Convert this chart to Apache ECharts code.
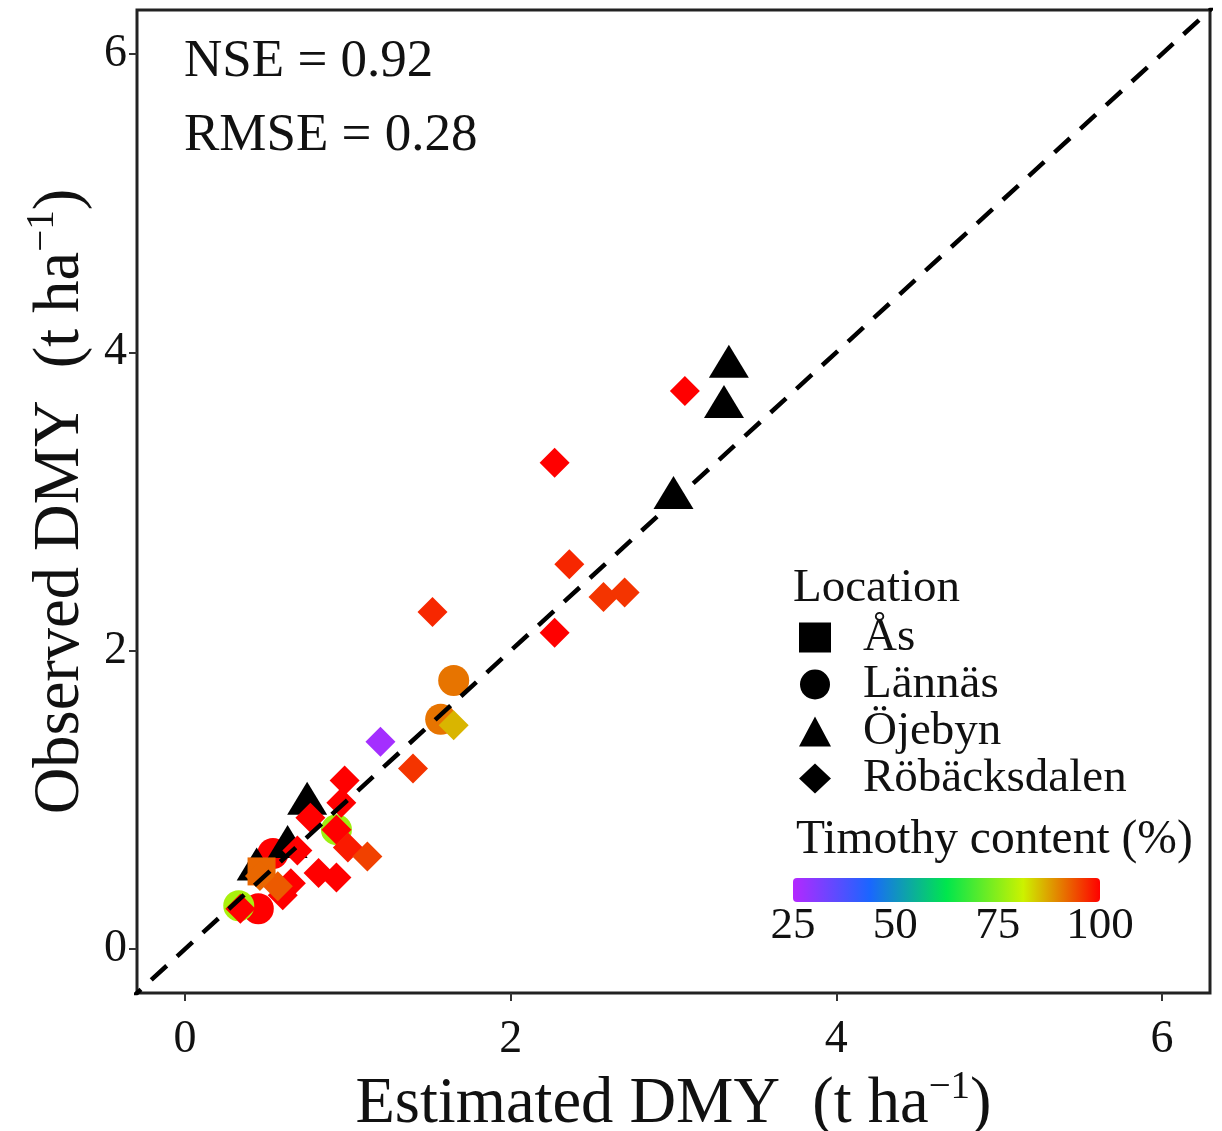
<!DOCTYPE html>
<html><head><meta charset="utf-8">
<script src="https://cdn.jsdelivr.net/npm/echarts@6/dist/echarts.min.js"></script>
<style>html,body{margin:0;padding:0;background:#fff}#c{width:1222px;height:1131px}</style>
</head><body><div id="c"></div>
<script>
const FONT = 'Liberation Serif';
const tickValues = [0, 2, 4, 6];
const timothyTicks = [25, 50, 75, 100];
const locations = ['Ås', 'Lännäs', 'Öjebyn', 'Röbäcksdalen'];
const timothyColors = ['#b428ff', '#1a66ff', '#00e64d', '#ccf200', '#ff0000'];

// Röbäcksdalen (diamonds): estimated, observed, timothy %
const robEst = [3.07, 2.27, 2.36, 2.57, 2.70, 2.27, 1.52, 1.20, 1.40, 1.65, 0.98, 0.96, 0.77, 0.93, 1.00, 1.12, 0.82, 0.93, 0.69, 0.65, 0.60, 0.34, 0.57, 0.46];
const robObs = [3.74, 3.26, 2.58, 2.36, 2.39, 2.12, 2.26, 1.39, 1.21, 1.50, 1.13, 0.98, 0.88, 0.80, 0.68, 0.62, 0.51, 0.48, 0.66, 0.44, 0.36, 0.27, 0.42, 0.49];
const robTim = [100, 100, 97, 96, 96, 100, 97, 27, 96, 86, 100, 100, 100, 100, 98, 95, 100, 100, 100, 100, 100, 100, 93, 92];
// Lännäs (circles)
const lanEst = [1.65, 1.57, 0.93, 0.54, 0.45, 0.33];
const lanObs = [1.80, 1.54, 0.80, 0.64, 0.27, 0.29];
const lanTim = [91, 91, 77, 100, 100, 78];
// Öjebyn (triangles, no timothy colour)
const ojeEst = [3.34, 3.31, 3.00, 0.75, 0.63, 0.44];
const ojeObs = [3.94, 3.67, 3.06, 1.01, 0.72, 0.57];
// Ås (squares)
const asEst = [0.47];
const asObs = [0.52];
const asTim = [92];
// 1:1 line
const lineXY = [-1, 7];

function pts(xs, ys, ts) { return xs.map((x, i) => ts ? [x, ys[i], ts[i]] : [x, ys[i]]); }

const chart = echarts.init(document.getElementById('c'));

const nameRich = {
  a: { fontSize: 64.5, fontFamily: FONT, color: '#111', lineHeight: 74 },
  s: { fontSize: 39, fontFamily: FONT, color: '#111', verticalAlign: 'top', lineHeight: 39 }
};

function axisCommon() {
  return {
    type: 'value', min: -0.295, max: 6.295,
    splitLine: { show: false },
    axisLine: { show: false, onZero: false },
    axisTick: { show: true, customValues: tickValues, length: 8, lineStyle: { color: '#333', width: 2 } },
    nameLocation: 'middle',
    nameTextStyle: { rich: nameRich }
  };
}

const xAxis = Object.assign(axisCommon(), {
  axisLabel: { customValues: tickValues, fontSize: 46, fontFamily: FONT, color: '#111', margin: 24 },
  name: '{a|Estimated DMY  (t ha}{s|−1}{a|)}',
  nameGap: 62
});
const yAxis = Object.assign(axisCommon(), {
  axisLabel: { customValues: tickValues, fontSize: 46, fontFamily: FONT, color: '#111', margin: 10 },
  name: '{a|Observed DMY  (t ha}{s|−1}{a|)}',
  nameGap: 33
});

const cbX = 793, cbY = 878, cbW = 307, cbH = 24;
const graphics = [
  { type: 'text', x: 184, y: 62, style: { text: 'NSE = 0.92', fontSize: 53, fontFamily: FONT, fill: '#111', align: 'left', verticalAlign: 'middle' } },
  { type: 'text', x: 184, y: 136, style: { text: 'RMSE = 0.28', fontSize: 53, fontFamily: FONT, fill: '#111', align: 'left', verticalAlign: 'middle' } },
  { type: 'text', x: 793, y: 589, style: { text: 'Location', fontSize: 47, fontFamily: FONT, fill: '#111', align: 'left', verticalAlign: 'middle' } },
  { type: 'text', x: 796, y: 841, style: { text: 'Timothy content (%)', fontSize: 47.5, fontFamily: FONT, fill: '#111', align: 'left', verticalAlign: 'middle' } },
  { type: 'rect', shape: { x: cbX, y: cbY, width: cbW, height: cbH, r: 4 },
    style: { fill: new echarts.graphic.LinearGradient(0, 0, 1, 0, timothyColors.map((c, i) => ({ offset: i / (timothyColors.length - 1), color: c }))) } }
];
timothyTicks.forEach(v => {
  graphics.push({ type: 'text', x: cbX + (v - 25) / 75 * cbW, y: 926,
    style: { text: String(v), fontSize: 45, fontFamily: FONT, fill: '#111', align: 'center', verticalAlign: 'middle' } });
});

const option = {
  animation: false,
  backgroundColor: '#fff',
  grid: { left: 137, right: 12, top: 10, bottom: 138, outerBoundsMode: 'none', containLabel: false,
    show: true, borderColor: '#222', borderWidth: 3, backgroundColor: 'transparent' },
  xAxis: xAxis,
  yAxis: yAxis,
  visualMap: { type: 'continuous', show: false, min: 25, max: 100, dimension: 2, seriesIndex: [0, 2, 3], inRange: { color: timothyColors } },
  legend: {
    orient: 'vertical', left: 799, top: 614, padding: 0, itemGap: 0, itemWidth: 32, itemHeight: 30,
    textStyle: { fontSize: 47, fontFamily: FONT, color: '#111', lineHeight: 46, padding: [0, 0, 0, 27] },
    data: locations.map(n => ({ name: n, itemStyle: { color: '#000', borderWidth: 0 } }))
  },
  graphic: graphics,
  series: [
    { name: 'Lännäs', type: 'scatter', symbol: 'circle', symbolSize: 31, data: pts(lanEst, lanObs, lanTim), itemStyle: { color: '#000', opacity: 1 }, emphasis: { disabled: true }, z: 2 },
    { name: 'Öjebyn', type: 'scatter', symbol: 'triangle', symbolSize: [40, 33], data: pts(ojeEst, ojeObs), itemStyle: { color: '#000', opacity: 1 }, emphasis: { disabled: true }, z: 3 },
    { name: 'Ås', type: 'scatter', symbol: 'rect', symbolSize: 28, data: pts(asEst, asObs, asTim), itemStyle: { color: '#000', opacity: 1 }, emphasis: { disabled: true }, z: 4 },
    { name: 'Röbäcksdalen', type: 'scatter', symbol: 'diamond', symbolSize: 30, data: pts(robEst, robObs, robTim), itemStyle: { color: '#000', opacity: 1 }, emphasis: { disabled: true }, z: 5 },
    { name: '1:1', type: 'line', data: lineXY.map(v => [v, v]), showSymbol: false, clip: true, silent: true,
      lineStyle: { color: '#000', width: 4.5, type: [21, 14] }, z: 10 }
  ]
};
chart.setOption(option);
</script>
</body></html>
